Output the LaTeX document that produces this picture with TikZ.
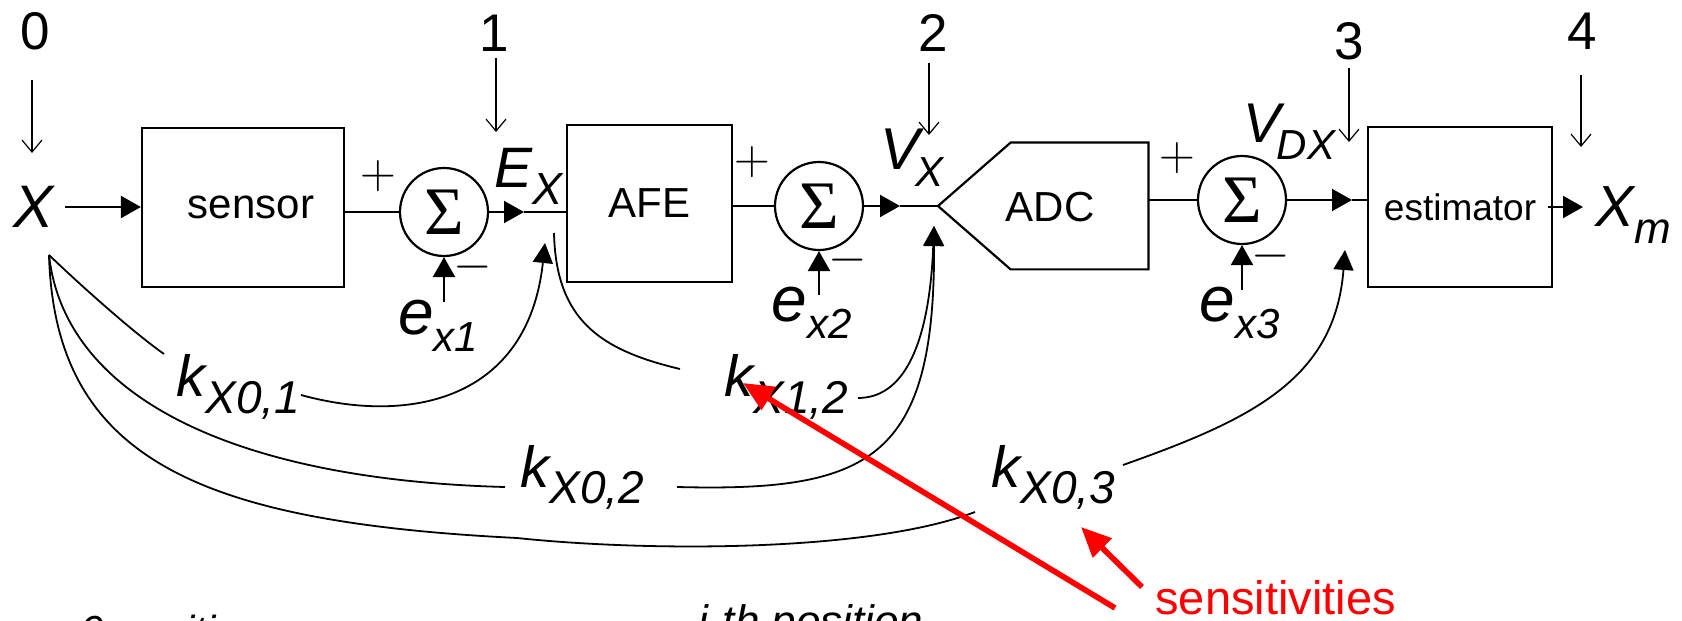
\documentclass[tikz,border=0pt]{standalone}
\usepackage{fontspec}
\setmainfont{Liberation Sans}
\newfontfamily\sigfont{Liberation Serif}
\usetikzlibrary{arrows.meta}
\newcommand\msub[5]{{\fontsize{#1}{#1}\selectfont #2}\kern#5\raisebox{-8.3bp}{\fontsize{#3}{#3}\selectfont #4}}
\tikzset{
  x=0.5bp, y=-0.5bp,
  blk/.style={draw, line width=1.1bp, inner sep=0, font=\fontsize{21bp}{25bp}\selectfont},
  sumnode/.style={circle, draw, line width=1.1bp, minimum size=44bp, inner sep=0, font=\sigfont\fontsize{34bp}{38bp}\selectfont},
  wire/.style={line width=1.1bp},
  fa/.style={line width=1.1bp, -{Triangle[length=10bp,width=11bp]}},
  ptr/.style={line width=0.6bp, -{Straight Barb[length=6bp,width=10bp]}},
  curve/.style={line width=0.9bp},
  carr/.style={line width=0.9bp, -{Triangle[length=10bp,width=10bp]}},
  redarr/.style={draw=red, line width=2.8bp, -{Triangle[length=15bp,width=13bp]}},
  txt/.style={inner sep=0, anchor=base west},
  num/.style={inner sep=0, anchor=base, font=\fontsize{26.5bp}{30bp}\selectfont},
  pm/.style={inner sep=0, font=\fontsize{32bp}{36bp}\selectfont},
  lab/.style={txt, font=\itshape},
}
\begin{document}
\begin{tikzpicture}
\useasboundingbox (0,0) rectangle (1682,621);
\clip (0,0) rectangle (1682,621);

% position numbers and pointers
\node[num] (n0) at (35,50) {0};
\node[num] (n1) at (494,52) {1};
\node[num] (n2) at (933,52) {2};
\node[num] (n3) at (1349,60) {3};
\node[num] (n4) at (1582,50) {4};
\coordinate (p0a) at (32,80);   \coordinate (p0b) at (32,153);
\coordinate (p1a) at (496,58);  \coordinate (p1b) at (496,132);
\coordinate (p2a) at (929,63);  \coordinate (p2b) at (929,135);
\coordinate (p3a) at (1349,68); \coordinate (p3b) at (1349,142);
\coordinate (p4a) at (1581,75); \coordinate (p4b) at (1581,147);
\draw[ptr] (p0a) -- (p0b);
\draw[ptr] (p1a) -- (p1b);
\draw[ptr] (p2a) -- (p2b);
\draw[ptr] (p3a) -- (p3b);
\draw[ptr] (p4a) -- (p4b);

% main chain
\node[inner xsep=5.5bp, inner ysep=0, font=\fontsize{30bp}{32bp}\selectfont\itshape] (X) at (34,207) {X};
\node[blk, minimum width=101bp, minimum height=79.5bp] (sensor) at (243,207.5) {\hspace*{8bp}sensor};
\node[sumnode] (sum1) at (444,212) {Σ};
\node[blk, minimum width=82.5bp, minimum height=78.5bp] (afe) at (649.5,203.5) {AFE};
\node[sumnode] (sum2) at (819,206) {Σ};
\node[inner sep=0, minimum width=68.5bp, minimum height=63bp] (adc) at (1079.5,206) {};
\coordinate (adctip) at (938,206);
\draw[wire] (adc.north east) -- (adc.north west) -- (adctip) -- (adc.south west) -- (adc.south east) -- cycle;
\node[inner sep=0, font=\fontsize{21bp}{25bp}\selectfont] (adctext) at (1050,207) {ADC};
\node[sumnode] (sum3) at (1242,200) {Σ};
\node[blk, minimum width=92bp, minimum height=80bp, font=\fontsize{18.5bp}{22bp}\selectfont] (est) at (1460,207) {estimator};

\draw[fa] (X.east) -- (X.east -| sensor.west);
\draw[wire] (sensor.east |- sum1.west) -- (sum1.west);
\coordinate (a1) at (524,212);
\draw[fa] (sum1.east) -- (a1);
\draw[wire] (a1) -- (a1 -| afe.west);
\draw[wire] (afe.east |- sum2.west) -- (sum2.west);
\coordinate (a2) at (900,206);
\draw[fa] (sum2.east) -- (a2);
\draw[wire] (a2) -- (adctip);
\draw[wire] (adc.east |- sum3.west) -- (sum3.west);
\coordinate (a3) at (1352,200);
\draw[fa] (sum3.east) -- (a3);
\draw[wire] (a3) -- (a3 -| est.west);
\coordinate (out) at (1583,207);
\draw[fa] ([xshift=-2.5bp]est.east) -- (out);

% plus / minus
\node[pm] (pl1) at (378,176) {$+$};
\node[pm] (mi1) at (473,267) {$-$};
\node[pm] (pl2) at (752,162) {$+$};
\node[pm] (mi2) at (848,260) {$-$};
\node[pm] (pl3) at (1177,158) {$+$};
\node[pm] (mi3) at (1271,256) {$-$};

% error inputs
\coordinate (e1s) at (444,302);
\coordinate (e2s) at (819,295);
\coordinate (e3s) at (1242,290);
\draw[fa] (e1s) -- (sum1.south);
\draw[fa] (e2s) -- (sum2.south);
\draw[fa] (e3s) -- (sum3.south);
\node[lab] (ex1) at (398,335) {\msub{32bp}{e}{21bp}{x1}{0bp}};
\node[lab] (ex2) at (771,322) {\msub{32bp}{e}{21bp}{x2}{0bp}};
\node[lab] (ex3) at (1199,322) {\msub{32bp}{e}{21bp}{x3}{0bp}};

% signal names
\node[lab] (EX) at (494,188) {\msub{28.5bp}{E}{22.5bp}{X}{0bp}};
\node[lab] (VX) at (880,170) {\msub{29.5bp}{V}{21bp}{X}{-2bp}};
\node[lab] (VDX) at (1243,143) {\msub{28bp}{V}{21bp}{DX}{-2bp}};
\node[lab] (Xm) at (1595,227) {\msub{29bp}{X}{22bp}{m}{0bp}};

% sensitivity labels
\node[lab] (k01) at (176,397) {\msub{29bp}{k}{23bp}{X0,1}{0bp}};
\node[lab] (k12) at (724,397) {\msub{29bp}{k}{23bp}{X1,2}{0bp}};
\node[lab] (k02) at (520,487) {\msub{29bp}{k}{23bp}{X0,2}{0bp}};
\node[lab] (k03) at (991,487) {\msub{29bp}{k}{23bp}{X0,3}{0bp}};

% sensitivity curves
\coordinate (xs) at (49,255);
\coordinate (k01a) at (164,354); \coordinate (k01b) at (301,395); \coordinate (t1) at (545,243);
\draw[curve] (xs) .. controls (75,280) and (130,330) .. (k01a);
\draw[carr] (k01b) .. controls (410,425) and (528,400) .. (t1);
\coordinate (k12s) at (554,233); \coordinate (k12a) at (680,369); \coordinate (k12b) at (858,398); \coordinate (t2) at (934,226);
\draw[curve] (k12s) .. controls (556,320) and (600,350) .. (k12a);
\draw[carr] (k12b) .. controls (910,398) and (930,330) .. (t2);
\coordinate (k02a) at (505,487); \coordinate (k02b) at (677,487);
\draw[curve] (xs) .. controls (65,400) and (240,480) .. (k02a);
\draw[carr] (k02b) .. controls (870,492) and (935,460) .. (t2);
\coordinate (k03m) at (517,538); \coordinate (k03a) at (975,512); \coordinate (k03b) at (1123,465); \coordinate (t3) at (1345,250);
\draw[curve] (xs) .. controls (55,460) and (200,522) .. (k03m) .. controls (650,552) and (870,552) .. (k03a);
\draw[carr] (k03b) .. controls (1250,420) and (1335,380) .. (t3);

% red annotation
\node[txt, text=red, font=\fontsize{23.5bp}{26bp}\selectfont] (sens) at (1155,614) {sensitivities};
\coordinate (r1s) at (1115,608); \coordinate (r1t) at (743,383);
\coordinate (r2s) at (1142,587); \coordinate (r2t) at (1081,527);
\draw[redarr] (r1s) -- (r1t);
\draw[redarr] (r2s) -- (r2t);

% bottom captions (cut by the frame)
\node[lab, font=\fontsize{21bp}{24bp}\selectfont\itshape] (pos0) at (80,645) {0-position};
\node[lab, font=\fontsize{22bp}{24bp}\selectfont\itshape] (posi) at (698,636) {i-th position};
\end{tikzpicture}
\end{document}
